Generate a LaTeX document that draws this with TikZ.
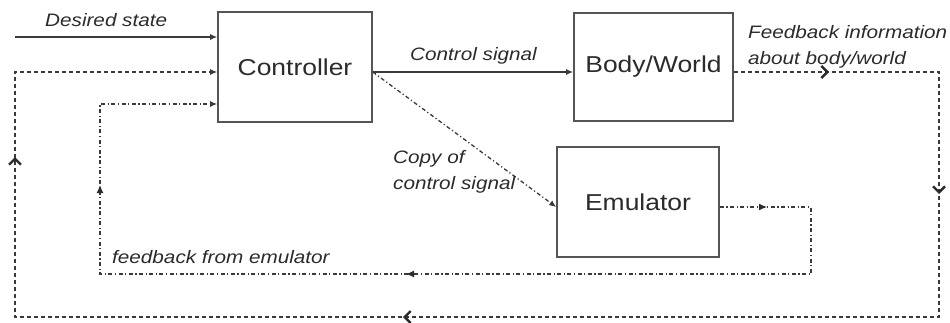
\documentclass[tikz,border=0pt]{standalone}
\usepackage{fontspec}
\newfontfamily\figfont{Liberation Sans}[FakeStretch=1.15]
\usetikzlibrary{arrows.meta,calc}
\definecolor{ink}{HTML}{2B2B2B}
\definecolor{frame}{HTML}{555555}
\definecolor{wirec}{HTML}{3A3A3A}
\tikzset{
  chev/.tip={Straight Barb[length=6pt,width=12pt,line width=2.4pt]},
  fill tip/.tip={Latex[length=7pt,width=6pt]},
  mid tip/.tip={Latex[length=8pt,width=7pt]},
  box/.style={draw=frame, line width=1.6pt, fill=white, inner sep=0pt,
    text=ink, font=\figfont\fontsize{23}{28}\selectfont},
  lbl/.style={text=ink, inner sep=0pt, align=left,
    font=\figfont\itshape\fontsize{18}{26}\selectfont},
  wire/.style={draw=wirec, line width=1.3pt},
  dashwire/.style={wire, dash pattern=on 4.5pt off 2.5pt},
  dotwire/.style={wire, dash pattern=on 4pt off 2.5pt on 1.2pt off 2.5pt},
  tipend/.style={-{fill tip}},
  midchev/.style={draw=ink, line width=1.3pt, -{chev}},
  midfill/.style={draw=ink, line width=1.3pt, -{mid tip}}
}
\begin{document}
\begin{tikzpicture}[x=1pt,y=-1pt]
  \fill[white] (0,0) rectangle (950,322);
  \useasboundingbox (0,0) rectangle (950,322);

  % blocks
  \node[box, minimum width=154pt, minimum height=110pt] (ctrl) at (295,67) {Controller};
  \node[box, minimum width=159pt, minimum height=108pt] (body) at (653.5,67) {Body/World};
  \node[box, minimum width=162pt, minimum height=110pt] (emu)  at (638,202) {Emulator};

  % ports and loop corners
  \coordinate (ds) at (15,37);
  \coordinate (ctlout)  at ($(ctrl.east)+(0,5)$);
  \coordinate (bodyout) at ($(body.east)+(0,5)$);
  \coordinate (emuout)  at ($(emu.east)+(0,5)$);
  \coordinate (emuin)   at ($(emu.west)+(0,5)$);
  \coordinate (outerNE) at (939,72);
  \coordinate (outerSE) at (939,317);
  \coordinate (outerSW) at (15,317);
  \coordinate (outerNW) at (15,72);
  \coordinate (innerNE) at (811,207);
  \coordinate (innerSE) at (811,274);
  \coordinate (innerSW) at (100,274);
  \coordinate (innerNW) at (100,104);

  % forward signals
  \draw[wire, tipend] (ds) -- (ctrl.west |- ds);
  \draw[wire, tipend] (ctlout) -- (body.west |- ctlout);
  \draw[dotwire, tipend] (ctlout) -- (emuin);

  % feedback from the body/world
  \draw[dashwire, tipend]
    (bodyout) -- (outerNE) -- (outerSE) -- (outerSW) -- (outerNW) -- (ctrl.west |- outerNW);
  % direction marks on that loop
  \coordinate (fbA) at (829,72);
  \coordinate (fbB) at (939,194);
  \coordinate (fbC) at (403,317);
  \coordinate (fbD) at (15,157);
  \draw[midchev] ($(fbA)+(-4,0)$) -- (fbA);
  \draw[midchev] ($(fbB)+(0,-4)$) -- (fbB);
  \draw[midchev] ($(fbC)+(4,0)$)  -- (fbC);
  \draw[midchev] ($(fbD)+(0,4)$)  -- (fbD);

  % feedback from the emulator
  \draw[dotwire, tipend]
    (emuout) -- (innerNE) -- (innerSE) -- (innerSW) -- (innerNW) -- (ctrl.west |- innerNW);
  % direction marks on that loop
  \coordinate (efA) at (767,207);
  \coordinate (efB) at (406,274);
  \coordinate (efC) at (100,185);
  \draw[midfill] ($(efA)+(-4,0)$) -- (efA);
  \draw[midfill] ($(efB)+(4,0)$)  -- (efB);
  \draw[midfill] ($(efC)+(0,4)$)  -- (efC);

  % labels
  \node[lbl, anchor=base west]  (lds) at (45,26)   {Desired state};
  \node[lbl, anchor=base west]  (lcs) at (410,60)  {Control signal};
  \node[lbl, anchor=north west] (lfb) at (748,25)  {Feedback information\\about body/world};
  \node[lbl, anchor=north west] (lcp) at (393,150) {Copy of\\control signal};
  \node[lbl, anchor=base west]  (lfe) at (112,263) {feedback from emulator};
\end{tikzpicture}
\end{document}
